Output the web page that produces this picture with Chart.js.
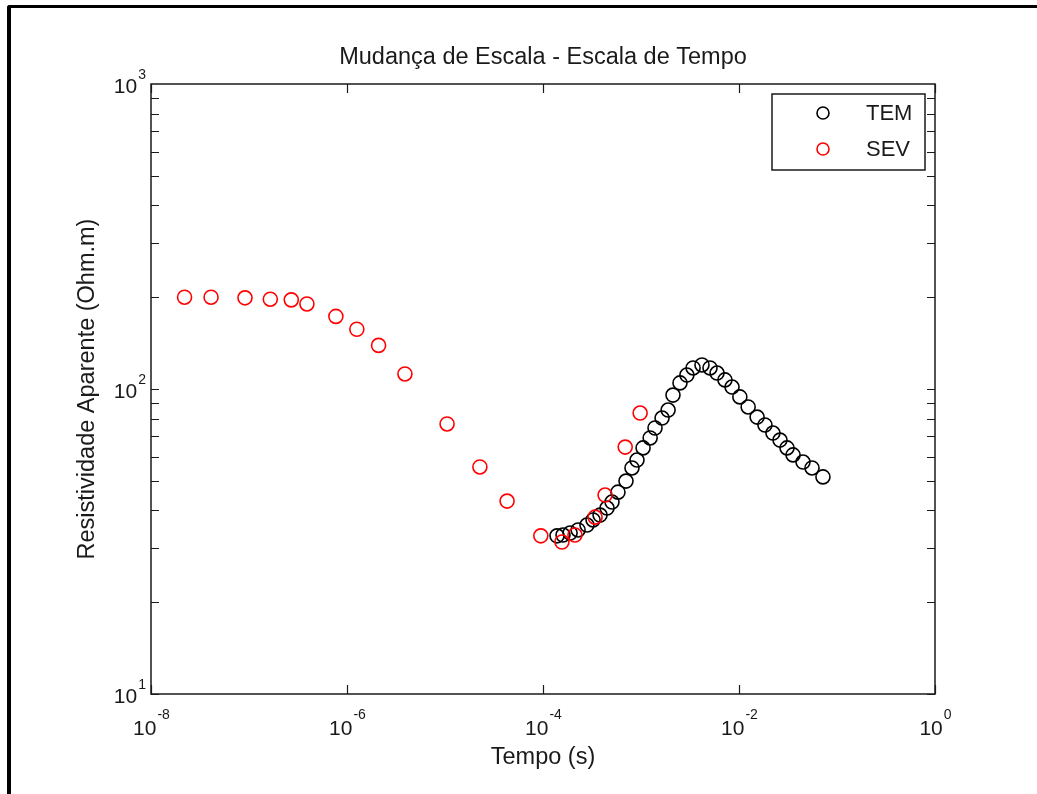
<!DOCTYPE html>
<html>
<head>
<meta charset="utf-8">
<script src="https://cdn.jsdelivr.net/npm/chart.js@4.4.1/dist/chart.umd.min.js"></script>
<style>
  html,body{margin:0;padding:0;background:#fff;overflow:hidden;}
  #wrap{position:relative;width:1037px;height:794px;}
  canvas{position:absolute;left:0;top:0;}
  #frame{position:absolute;left:7px;top:5px;width:1100px;height:900px;border-style:solid;border-color:#000;border-width:3px 0 0 4px;border-top-left-radius:3px;pointer-events:none;}
</style>
</head>
<body>
<div id="wrap">
  <canvas id="c" width="1037" height="794"></canvas>
  <div id="frame"></div>
</div>
<script>
// dados (tempo em s, resistividade em Ohm.m)
const temTime = [1.39e-4, 1.60e-4, 1.89e-4, 2.28e-4, 2.81e-4, 3.24e-4, 3.82e-4, 4.50e-4, 5.06e-4, 5.82e-4,
                 7.03e-4, 8.09e-4, 9.1e-4, 1.05e-3, 1.24e-3, 1.39e-3, 1.64e-3, 1.89e-3, 2.12e-3, 2.50e-3,
                 2.94e-3, 3.40e-3, 4.19e-3, 5.06e-3, 5.97e-3, 7.19e-3, 8.49e-3, 1.02e-2, 1.24e-2, 1.53e-2,
                 1.84e-2, 2.22e-2, 2.62e-2, 3.09e-2, 3.56e-2, 4.50e-2, 5.56e-2, 7.19e-2];
const temRes  = [33.0, 33.2, 33.7, 34.5, 35.8, 37.2, 38.6, 40.7, 42.6, 45.9,
                 49.9, 55.1, 58.5, 64.1, 69.1, 74.5, 80.3, 85.3, 95.5, 104.7,
                 111.1, 117.2, 119.9, 117.2, 112.8, 107.1, 101.5, 94.2, 87.3, 80.9,
                 76.2, 71.7, 68.0, 64.1, 60.8, 57.6, 55.1, 51.5];

const sevTime = [2.2e-8, 4.1e-8, 9.1e-8, 1.65e-7, 2.7e-7, 3.9e-7, 7.7e-7, 1.26e-6, 2.1e-6, 3.9e-6,
                 1.05e-5, 2.27e-5, 4.3e-5, 9.5e-5, 1.56e-4, 2.12e-4, 3.4e-4, 4.3e-4, 6.9e-4, 9.8e-4];
const sevRes  = [200, 200, 199, 197, 196, 190, 173, 157, 139, 112,
                 76.8, 55.5, 42.9, 33.0, 31.5, 33.2, 38.0, 44.9, 64.5, 83.4];

const xTickExp = [-8, -6, -4, -2, 0];
const yTickExp = [1, 2, 3];

const FONT = "'Liberation Sans', Arial, Helvetica, sans-serif";
const INK = '#1a1a1a';

const pts = (xs, ys) => xs.map((v, i) => ({x: v, y: ys[i]}));

// caixa, marcas internas, rótulos 10^n e legenda no estilo MATLAB
const matlabAxes = {
  id: 'matlabAxes',
  afterDraw(chart){
    const {ctx, chartArea: a, scales: {x, y}} = chart;
    ctx.save();
    ctx.strokeStyle = INK;
    ctx.lineWidth = 1.5;
    ctx.strokeRect(a.left, a.top, a.right - a.left, a.bottom - a.top);

    ctx.beginPath();
    ctx.lineWidth = 1.2;
    xTickExp.forEach(e => {
      const px = Math.round(x.getPixelForValue(Math.pow(10, e))) + 0.5;
      ctx.moveTo(px, a.bottom); ctx.lineTo(px, a.bottom - 9);
      ctx.moveTo(px, a.top);    ctx.lineTo(px, a.top + 9);
    });
    for(let d = yTickExp[0]; d < yTickExp[yTickExp.length - 1]; d++){
      for(let m = 1; m < 10; m++){
        const py = Math.round(y.getPixelForValue(m * Math.pow(10, d))) + 0.5;
        ctx.moveTo(a.left, py);  ctx.lineTo(a.left + 8, py);
        ctx.moveTo(a.right, py); ctx.lineTo(a.right - 8, py);
      }
    }
    ctx.stroke();

    ctx.fillStyle = INK;
    ctx.textBaseline = 'alphabetic';
    ctx.textAlign = 'left';
    const big = '21px ' + FONT, small = '14px ' + FONT;
    xTickExp.forEach(e => {
      const px = x.getPixelForValue(Math.pow(10, e));
      const s = String(e);
      ctx.font = big; const w1 = ctx.measureText('10').width;
      ctx.font = small; const w2 = ctx.measureText(s).width;
      const x0 = px - (w1 + w2) / 2;
      ctx.font = big; ctx.fillText('10', x0, a.bottom + 41);
      ctx.font = small; ctx.fillText(s, x0 + w1 + 1, a.bottom + 25);
    });
    yTickExp.forEach(e => {
      const py = y.getPixelForValue(Math.pow(10, e));
      const s = String(e);
      ctx.font = big; const w1 = ctx.measureText('10').width;
      ctx.font = small; const w2 = ctx.measureText(s).width;
      const x1 = a.left - 5;
      ctx.font = small; ctx.fillText(s, x1 - w2, py - 5);
      ctx.font = big; ctx.fillText('10', x1 - w2 - w1 - 1, py + 9);
    });

    // legenda
    const L = {left: a.right - 163, top: a.top + 10, w: 153, h: 76};
    ctx.fillStyle = '#fff';
    ctx.fillRect(L.left, L.top, L.w, L.h);
    ctx.lineWidth = 1.5;
    ctx.strokeStyle = INK;
    ctx.strokeRect(L.left, L.top, L.w, L.h);
    ctx.textBaseline = 'middle';
    ctx.font = '22px ' + FONT;
    chart.data.datasets.forEach((ds, i) => {
      const cy = L.top + 19 + i * 36;
      ctx.beginPath();
      ctx.strokeStyle = ds.borderColor;
      ctx.lineWidth = 1.6;
      ctx.arc(L.left + 51, cy, 6, 0, Math.PI * 2);
      ctx.stroke();
      ctx.fillStyle = INK;
      ctx.fillText(ds.label, L.left + 94, cy + 1);
    });
    ctx.restore();
  }
};

new Chart(document.getElementById('c'), {
  type: 'scatter',
  data: {
    datasets: [
      {label: 'TEM', data: pts(temTime, temRes), borderColor: '#000000', order: 2},
      {label: 'SEV', data: pts(sevTime, sevRes), borderColor: '#ff0000', order: 1}
    ]
  },
  options: {
    responsive: false,
    animation: false,
    layout: {padding: {left: 0, right: 102, top: 0, bottom: 0}},
    elements: {
      point: {radius: 7, borderWidth: 1.6, backgroundColor: 'rgba(0,0,0,0)', pointStyle: 'circle', hoverRadius: 7}
    },
    plugins: {
      legend: {display: false},
      tooltip: {enabled: false},
      title: {
        display: true,
        fullSize: false,
        text: 'Mudança de Escala - Escala de Tempo',
        color: INK,
        font: {family: FONT, size: 23.5, weight: 'normal', lineHeight: 1.2},
        padding: {top: 43.9, bottom: 11.9}
      }
    },
    scales: {
      x: {
        type: 'logarithmic',
        min: 1e-8, max: 1,
        grid: {display: false},
        border: {display: false},
        ticks: {display: false},
        title: {display: true, text: 'Tempo (s)', color: INK,
                font: {family: FONT, size: 23.5, lineHeight: 1.2}, padding: {top: 0, bottom: 21.9}},
        afterFit: s => { s.height = 100; }
      },
      y: {
        type: 'logarithmic',
        min: 10, max: 1000,
        grid: {display: false},
        border: {display: false},
        ticks: {display: false},
        title: {display: true, text: 'Resistividade Aparente (Ohm.m)', color: INK,
                font: {family: FONT, size: 23.5, lineHeight: 1.2}, padding: {top: 73.9, bottom: 0}},
        afterFit: s => { s.width = 151; }
      }
    }
  },
  plugins: [matlabAxes]
});
</script>
</body>
</html>
